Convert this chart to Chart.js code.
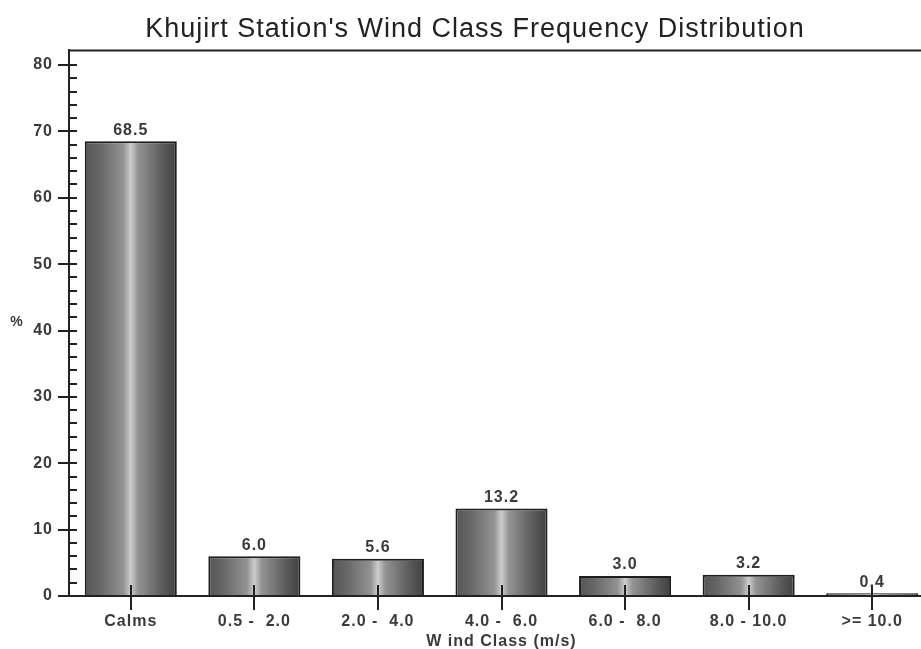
<!DOCTYPE html>
<html>
<head>
<meta charset="utf-8">
<script src="https://cdn.jsdelivr.net/npm/chart.js@4/dist/chart.umd.min.js"></script>
<style>
	html, body { margin: 0; padding: 0; background: #fff; overflow: hidden; }
	canvas { display: block; }
</style>
</head>
<body>
<canvas id="grafik_angin" width="950" height="649"></canvas>
<script>
var kelas = ['Calms', '0.5 -  2.0', '2.0 -  4.0', '4.0 -  6.0', '6.0 -  8.0', '8.0 - 10.0', '>= 10.0'];
var persen = [68.5, 6.0, 5.6, 13.2, 3.0, 3.2, 0.4];
var yTicks = [0, 10, 20, 30, 40, 50, 60, 70, 80];

var warnaTeks = '#3a3a3a';
var lebarBar = 0.745;

function isiBar(c) {
	var chart = c.chart;
	var x = chart.scales.x;
	if (!x || c.dataIndex === undefined) return '#888';
	var cx = x.getPixelForValue(c.dataIndex);
	var w = (x.width / kelas.length) * lebarBar;
	if (!isFinite(cx) || !isFinite(w) || w <= 0) return '#888';
	var g = chart.ctx.createLinearGradient(cx - w / 2, 0, cx + w / 2, 0);
	g.addColorStop(0, '#555');
	g.addColorStop(0.15, '#656565');
	g.addColorStop(0.42, '#929292');
	g.addColorStop(0.5, '#cdcdcd');
	g.addColorStop(0.58, '#939393');
	g.addColorStop(0.85, '#5a5a5a');
	g.addColorStop(1, '#404040');
	return g;
}

// tulisan di gambar asli agak renggang
var spasi = {
	id: 'spasi',
	beforeUpdate: function (chart) {
		chart.ctx.letterSpacing = '1px';
	}
};

// ticks kecil, garis atas, label nilai, simbol %
var hiasan = {
	id: 'hiasan',
	afterDatasetsDraw: function (chart) {
		var ctx = chart.ctx;
		var area = chart.chartArea;
		var y = chart.scales.y;
		var x = chart.scales.x;

		ctx.save();
		ctx.strokeStyle = '#222';
		ctx.lineWidth = 2;

		ctx.beginPath();
		ctx.moveTo(area.left - 1, area.top);
		ctx.lineTo(area.right, area.top);
		ctx.stroke();

		for (var v = 0; v <= 80; v += 2) {
			var py = Math.round(y.getPixelForValue(v));
			ctx.beginPath();
			ctx.moveTo(area.left, py);
			ctx.lineTo(area.left + 8, py);
			ctx.stroke();
		}

		for (var i = 0; i < kelas.length; i++) {
			var px = Math.round(x.getPixelForValue(i));
			ctx.beginPath();
			ctx.moveTo(px, area.bottom);
			ctx.lineTo(px, area.bottom - 11);
			ctx.stroke();
		}

		ctx.letterSpacing = '1px';
		ctx.fillStyle = warnaTeks;
		ctx.font = 'bold 16px "Liberation Sans", Arial, sans-serif';
		ctx.textAlign = 'center';
		ctx.textBaseline = 'bottom';
		var meta = chart.getDatasetMeta(0);
		meta.data.forEach(function (bar, i) {
			ctx.fillText(persen[i].toFixed(1), bar.x, bar.y - 3);
		});

		ctx.font = 'bold 14px "Liberation Sans", Arial, sans-serif';
		ctx.textBaseline = 'middle';
		ctx.fillText('%', 17, 322);
		ctx.restore();
	}
};

var ctx = document.getElementById('grafik_angin');

var barGraph = new Chart(ctx, {
	type: 'bar',
	data: {
		labels: kelas,
		datasets: [
			{
				label: 'Wind Class',
				data: persen,
				backgroundColor: isiBar,
				borderColor: '#1e1e1e',
				borderWidth: 2,
				categoryPercentage: 1,
				barPercentage: lebarBar
			}
		]
	},
	options: {
		responsive: false,
		animation: false,
		layout: { padding: { left: 16, right: 16, top: 0, bottom: 0 } },
		plugins: {
			legend: { display: false },
			tooltip: { enabled: false },
			title: {
				display: true,
				text: "Khujirt Station's Wind Class Frequency Distribution",
				color: '#222',
				font: { family: '"Liberation Sans", Arial, sans-serif', size: 27, weight: 'normal' },
				padding: { top: 13, bottom: 5 }
			}
		},
		scales: {
			x: {
				offset: true,
				grid: { display: true, drawOnChartArea: false, offset: false, drawTicks: true, tickLength: 14, color: '#222', lineWidth: 2 },
				border: { display: true, color: '#222', width: 2 },
				ticks: {
					color: warnaTeks,
					padding: 2,
					maxRotation: 0,
					autoSkip: false,
					font: { family: '"Liberation Sans", Arial, sans-serif', size: 16, weight: 'bold' }
				},
				title: {
					display: true,
					text: 'W ind Class (m/s)',
					color: warnaTeks,
					padding: { top: 0, bottom: -2 },
					font: { family: '"Liberation Sans", Arial, sans-serif', size: 16, weight: 'bold' }
				},
				afterFit: function (s) { s.height = 53; }
			},
			y: {
				min: 0,
				max: 82.2,
				grid: { display: true, drawOnChartArea: false, drawTicks: true, tickLength: 11, color: '#222', lineWidth: 2 },
				border: { display: true, color: '#222', width: 2 },
				ticks: {
					stepSize: 10,
					color: warnaTeks,
					padding: 5,
					font: { family: '"Liberation Sans", Arial, sans-serif', size: 16, weight: 'bold' }
				},
				afterBuildTicks: function (s) {
					s.ticks = yTicks.map(function (v) { return { value: v }; });
				},
				afterFit: function (s) { s.width = 53; }
			}
		}
	},
	plugins: [spasi, hiasan]
});
</script>
</body>
</html>
